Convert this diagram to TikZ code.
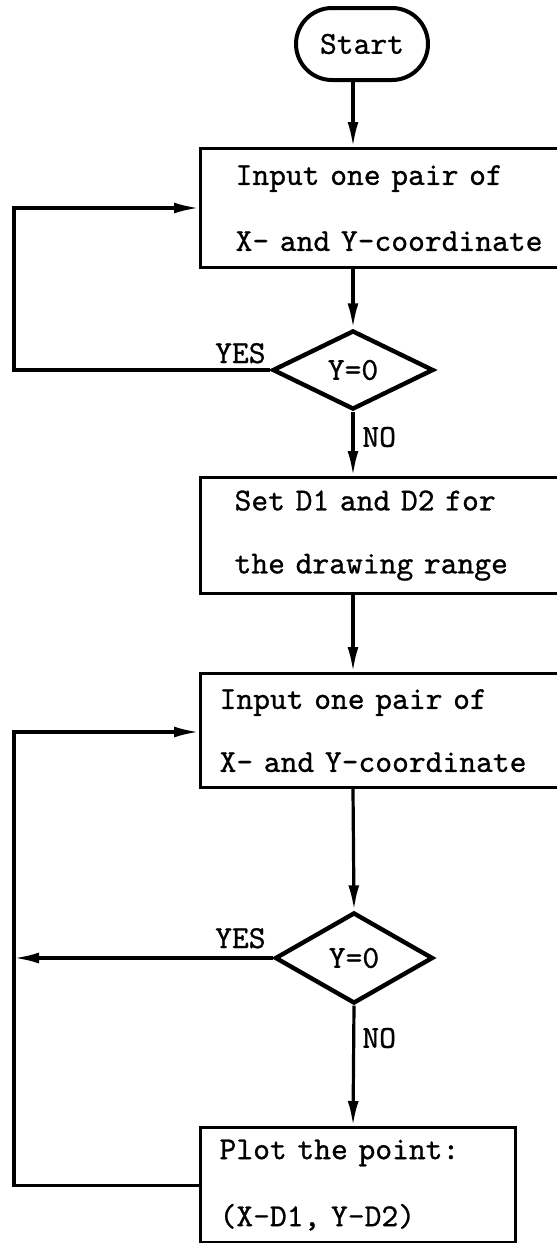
\documentclass[tikz,border=0pt]{standalone}
\usepackage{fontspec}
\newfontfamily\typewriter{lmmono10-regular.otf}[FakeBold=0.8]
\usetikzlibrary{arrows.meta,shapes.geometric,shapes.misc}
\tikzset{
  txt/.style={font=\typewriter\fontsize{16pt}{18pt}\selectfont},
  procbox/.style={txt,draw,line width=1.6pt,rectangle,align=left,anchor=north west},
  decide/.style={txt,draw,line width=2.2pt,diamond,inner sep=0pt},
  terminal/.style={txt,draw,line width=2pt,rounded rectangle,inner sep=0pt},
  flow/.style={line width=1.6pt,-{Latex[length=12.5pt,width=5.5pt]}},
  lbl/.style={txt,inner sep=0pt}
}
\begin{document}
\begin{tikzpicture}[x=0.5pt,y=-0.5pt]
\clip (0,0) rectangle (557,1243);

% column of the main flow
\coordinate (col) at (353,0);

\node[terminal,minimum width=66pt,minimum height=36pt] (start) at (362,44) {Start};

\node[procbox,minimum height=59.5pt,inner xsep=17.5pt,text width=175pt] (box1) at (199,147)
  {Input one pair of\\[15pt]X- and Y-coordinate};

\node[decide,minimum width=80.5pt,minimum height=39.5pt] (d1) at (353,370) {Y=0};

\node[procbox,minimum height=58pt,inner xsep=17pt,text width=175pt] (box2) at (199,476)
  {Set D1 and D2 for\\[13.5pt]the drawing range};

\node[procbox,minimum height=57pt,inner xsep=9.5pt,text width=190pt] (box3) at (199,672)
  {Input one pair of\\[13.5pt]X- and Y-coordinate};

\node[decide,minimum width=79pt,minimum height=45.5pt] (d2) at (354,958) {Y=0};

\node[procbox,minimum height=57.5pt,inner xsep=9.5pt,text width=138.5pt] (box4) at (199,1126)
  {Plot the point:\\[15.5pt](X-D1, Y-D2)};

% loop corners on the left
\coordinate (l1) at (14,208);
\coordinate (l2) at (14,732);

% main downward flow
\draw[flow] (start.south -| col) -- (box1.north -| col);
\draw[flow] (box1.south -| col) -- (d1.north);
\draw[flow] (d1.south) -- (box2.north -| col);
\draw[flow] (box2.south -| col) -- (box3.north -| col);
\draw[flow] (box3.south -| col) -- (d2.north);
\draw[flow] (d2.south) -- (box4.north -| col);

% first loop: back to input
\draw[flow] (d1.west) -- (d1.west -| l1) -- (l1) -- (l1 -| box1.west);

% second loop
\draw[flow] (d2.west) -- (d2.west -| l2);
\draw[flow] (box4.west) -- (box4.west -| l2) -- (l2) -- (l2 -| box3.west);

% branch labels
\node[lbl,anchor=base east] (yes1) at (266,363) {YES};
\node[lbl,anchor=west] (no1) at (362,437) {NO};
\node[lbl,anchor=base east] (yes2) at (266,948) {YES};
\node[lbl,anchor=west] (no2) at (362,1038) {NO};
\end{tikzpicture}
\end{document}
